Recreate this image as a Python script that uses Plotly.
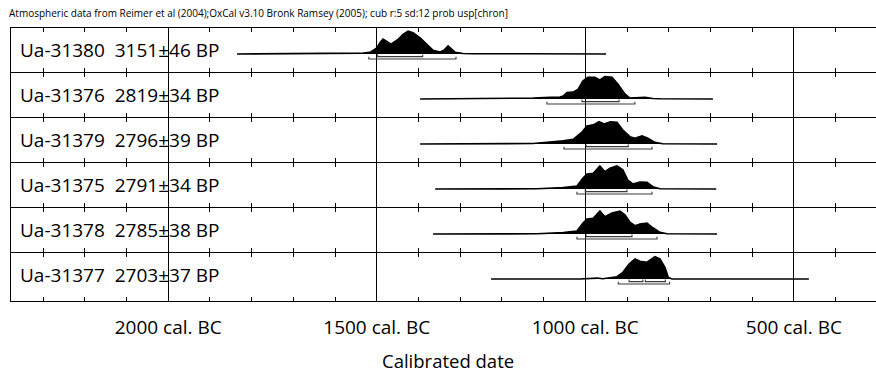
import plotly.graph_objects as go
from plotly.subplots import make_subplots

# ---------------- data ----------------
title_text = "Atmospheric data from Reimer et al (2004);OxCal v3.10 Bronk Ramsey (2005); cub r:5 sd:12 prob usp[chron]"
sample_labels = [
    "Ua-31380\u00a0\u00a03151\u00b146 BP",
    "Ua-31376\u00a0\u00a02819\u00b134 BP",
    "Ua-31379\u00a0\u00a02796\u00b139 BP",
    "Ua-31375\u00a0\u00a02791\u00b134 BP",
    "Ua-31378\u00a0\u00a02785\u00b138 BP",
    "Ua-31377\u00a0\u00a02703\u00b137 BP",
]

# calibrated years (cal. BC) and relative probability (% of max)
r1_years = [1835, 1612, 1564, 1533, 1516, 1500, 1492, 1485, 1476, 1466, 1450, 1437, 1425, 1413,
            1396, 1382, 1372, 1365, 1348, 1338, 1329, 1320, 1312, 1293, 1270, 1156, 950]
r1_prob = [0, 1, 2, 4, 7, 26, 50, 65, 55, 43, 62, 85, 99, 92, 70, 45, 27, 16, 9, 18, 35, 18, 7, 2, 1, 1, 0]

r2_years = [1396, 1205, 1125, 1084, 1061, 1053, 1044, 1029, 1017, 1006, 994, 977, 965, 953, 936,
            922, 905, 893, 874, 857, 838, 821, 694]
r2_prob = [0, 1, 4, 7, 9, 13, 28, 30, 43, 78, 94, 94, 83, 97, 94, 65, 22, 4, 4, 7, 2, 1, 0]

r3_years = [1396, 1205, 1125, 1053, 1029, 1008, 996, 981, 967, 955, 940, 924, 910, 893, 881, 864,
            850, 833, 814, 684]
r3_prob = [0, 1, 2, 14, 20, 52, 78, 83, 97, 87, 97, 94, 61, 32, 25, 35, 25, 7, 1, 0]

r4_years = [1360, 1116, 1053, 1020, 1006, 996, 981, 965, 953, 941, 924, 910, 898, 886, 869, 852,
            838, 821, 686]
r4_prob = [0, 1, 6, 13, 47, 65, 68, 100, 75, 90, 100, 83, 39, 22, 30, 29, 10, 1, 0]

r5_years = [1365, 1116, 1053, 1020, 1006, 996, 981, 965, 953, 936, 917, 905, 893, 881, 869, 852,
            838, 821, 804, 684]
r5_prob = [0, 1, 6, 13, 47, 65, 68, 100, 75, 91, 100, 83, 52, 36, 43, 47, 27, 7, 1, 0]

r6_years = [1226, 1013, 972, 965, 958, 924, 910, 895, 881, 869, 852, 833, 821, 809, 801, 792, 464]
r6_prob = [0, 0, 4, 3, 1, 10, 29, 65, 87, 77, 73, 97, 87, 51, 7, 0, 0]

# 68.2% and 95.4% ranges (cal. BC)
r1_68 = [(1498, 1390)]
r1_95 = [(1519, 1310)]
r2_68 = [(1008, 919)]
r2_95 = [(1092, 881)]
r3_68 = [(998, 897)]
r3_95 = [(1051, 840)]
r4_68 = [(1000, 900)]
r4_95 = [(1020, 840)]
r5_68 = [(998, 888)]
r5_95 = [(1020, 828)]
r6_68 = [(895, 862), (856, 808)]
r6_95 = [(921, 798)]

major_ticks = [2000, 1500, 1000, 500]
major_labels = ["2000 cal. BC", "1500 cal. BC", "1000 cal. BC", "500 cal. BC"]
minor_ticks = [2300, 2200, 2100, 1900, 1800, 1700, 1600, 1400, 1300, 1200, 1100,
               900, 800, 700, 600, 400]
x_title = "Calibrated date"

rows = [
    (r1_years, r1_prob, r1_68, r1_95),
    (r2_years, r2_prob, r2_68, r2_95),
    (r3_years, r3_prob, r3_68, r3_95),
    (r4_years, r4_prob, r4_68, r4_95),
    (r5_years, r5_prob, r5_68, r5_95),
    (r6_years, r6_prob, r6_68, r6_95),
]

# ---------------- layout constants (pixels) ----------------
W, H = 876, 374
ML, MR, MT, MB = 11, 0, 28, 73
PLOT_BOTTOM = H - MB
plot_h = H - MT - MB
# pixel extents (top, bottom) of each row; 1px gap so shared borders coincide
row_ext = [(28, 72), (73, 117), (118, 162), (163, 207), (208, 252), (253, 301)]
base_above_bottom = [18, 18, 18, 18, 18, 22]
peak_px = 23.0
X_RANGE = [2377, 303]
FONT = "Open Sans"

fig = make_subplots(rows=6, cols=1, shared_xaxes=True, vertical_spacing=0)

for i, (yrs, prob, r68, r95) in enumerate(rows):
    r = i + 1
    top, bot = row_ext[i]
    rh = bot - top
    ys = [p * peak_px / 100.0 for p in prob]
    fig.add_trace(go.Scatter(x=yrs, y=ys, mode="lines", fill="tozeroy",
                             fillcolor="black", line=dict(color="black", width=1.6),
                             hoverinfo="skip", showlegend=False), row=r, col=1)
    for (off, ranges) in ((-2.6, r68), (-5.0, r95)):
        bx, by = [], []
        for a, b in ranges:
            bx += [a, a, b, b, None]
            by += [off + 2.2, off, off, off + 2.2, None]
        fig.add_trace(go.Scatter(x=bx, y=by, mode="lines",
                                 line=dict(color="#3a3a3a", width=1.1),
                                 hoverinfo="skip", showlegend=False), row=r, col=1)
    fig.update_yaxes(range=[-base_above_bottom[i], rh - base_above_bottom[i]],
                     domain=[(PLOT_BOTTOM - bot) / plot_h, (PLOT_BOTTOM - top) / plot_h],
                     showgrid=False, zeroline=False, showticklabels=False,
                     showline=True, linecolor="black", linewidth=1, ticks="",
                     row=r, col=1)
    fig.update_xaxes(range=X_RANGE, showline=True, linecolor="black", linewidth=1,
                     mirror="allticks", tickvals=major_ticks, ticktext=major_labels,
                     ticks="", showgrid=True, gridcolor="black", gridwidth=1,
                     zeroline=False,
                     minor=dict(tickvals=minor_ticks, ticks="inside", ticklen=4,
                                tickcolor="black", tickwidth=1, showgrid=False),
                     showticklabels=(r == 6),
                     tickfont=dict(family=FONT, size=19, color="black"),
                     ticklabelstandoff=9,
                     row=r, col=1)
    fig.add_annotation(text=sample_labels[i], xref="paper", yref=f"y{'' if r == 1 else r} domain",
                       x=(18 - ML) / (W - ML - MR), y=1 - 21.5 / rh,
                       xanchor="left", yanchor="middle", showarrow=False,
                       font=dict(family=FONT, size=19, color="black"))

fig.add_annotation(text=title_text, xref="paper", yref="paper",
                   x=(7 - ML) / (W - ML - MR), y=(PLOT_BOTTOM - 13) / plot_h,
                   xanchor="left", yanchor="middle", showarrow=False,
                   font=dict(family="Liberation Sans Narrow, Open Sans", size=10, color="black"))
fig.add_annotation(text=x_title, xref="paper", yref="paper",
                   x=(448 - ML) / (W - ML - MR), y=(PLOT_BOTTOM - 360) / plot_h,
                   xanchor="center", yanchor="middle", showarrow=False,
                   font=dict(family=FONT, size=18.5, color="black"))

fig.update_layout(width=W, height=H, margin=dict(l=ML, r=MR, t=MT, b=MB),
                  paper_bgcolor="white", plot_bgcolor="white", showlegend=False)

fig.write_html("out.html")
